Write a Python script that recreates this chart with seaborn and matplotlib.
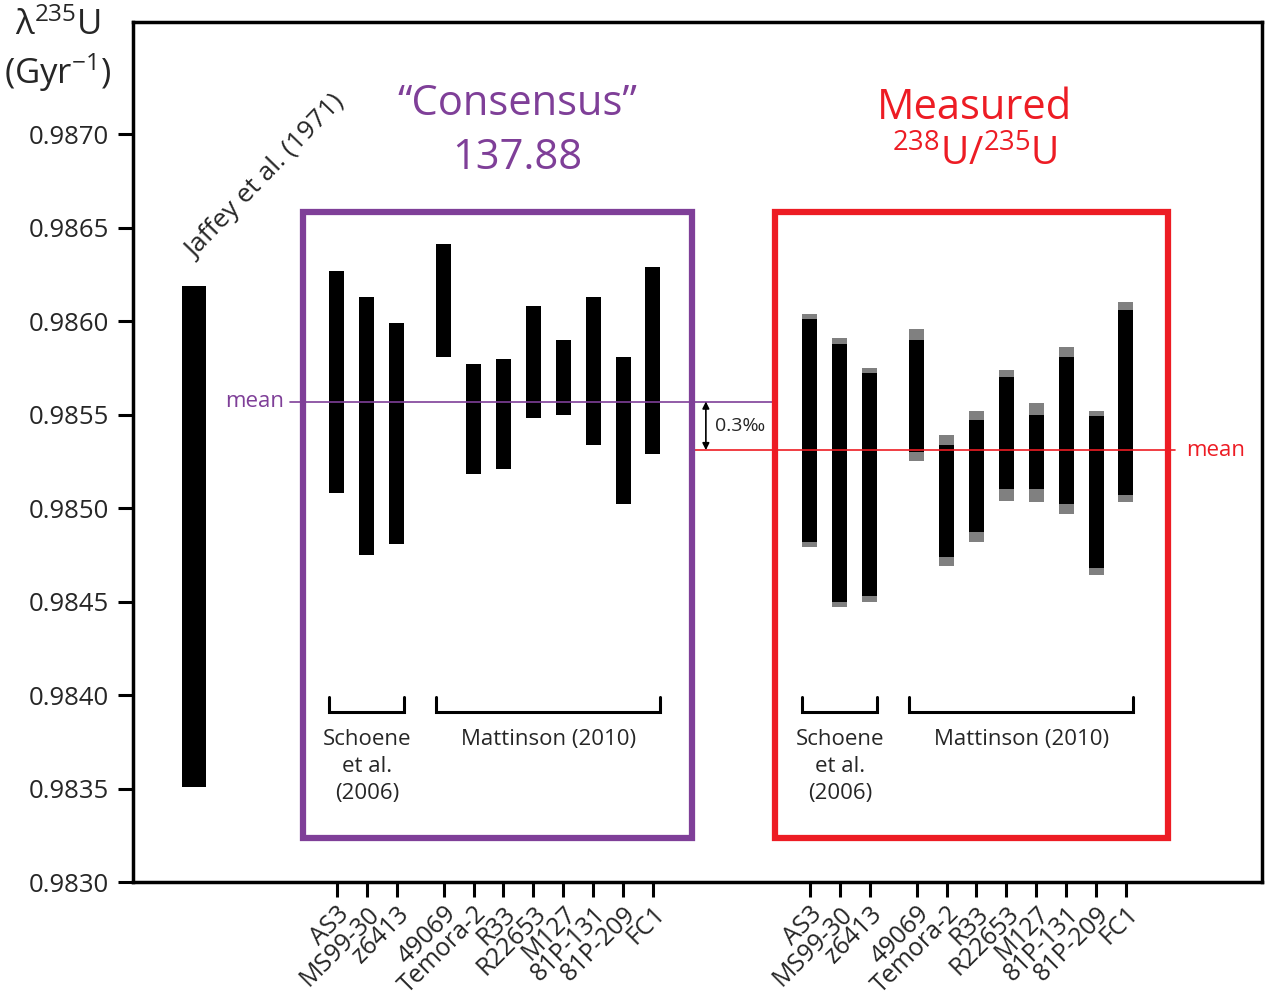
import numpy as np
import pandas as pd
import matplotlib
matplotlib.use("Agg")
import matplotlib.pyplot as plt
from matplotlib.patches import Rectangle
import seaborn as sns

# Zircon standards, in plotting order
samples = ["AS3", "MS99-30", "z6413", "49069", "Temora-2", "R33",
           "R22653", "M127", "81P-131", "81P-209", "FC1"]

# lambda-235U ranges (1/Gyr) computed with the consensus 238U/235U = 137.88
cons_low = [0.98508, 0.98475, 0.98481, 0.98581, 0.98518, 0.98521,
            0.98548, 0.98550, 0.98534, 0.98502, 0.98529]
cons_high = [0.98627, 0.98613, 0.98599, 0.98641, 0.98577, 0.98580,
             0.98608, 0.98590, 0.98613, 0.98581, 0.98629]

# lambda-235U ranges with measured 238U/235U (black: analytical, grey: incl. ratio error)
meas_low = [0.98482, 0.98450, 0.98453, 0.98530, 0.98474, 0.98487,
            0.98510, 0.98510, 0.98502, 0.98468, 0.98507]
meas_high = [0.98601, 0.98588, 0.98572, 0.98590, 0.98534, 0.98547,
             0.98570, 0.98550, 0.98581, 0.98549, 0.98606]
meas_low_full = [0.98479, 0.98447, 0.98450, 0.98525, 0.98469, 0.98482,
                 0.98504, 0.98503, 0.98497, 0.98464, 0.98503]
meas_high_full = [0.98604, 0.98591, 0.98575, 0.98596, 0.98539, 0.98552,
                  0.98574, 0.98556, 0.98586, 0.98552, 0.98610]

# Jaffey et al. (1971) decay constant range
jaffey_low = [0.98351]
jaffey_high = [0.98619]

cons_mean = 0.98557
meas_mean = 0.98531

y_ticks = [0.9830, 0.9835, 0.9840, 0.9845, 0.9850, 0.9855, 0.9860, 0.9865, 0.9870]

PURPLE = "#7F3F98"
RED = "#ED1C24"
GREY = "#808080"

sns.set_theme(style="ticks")
plt.rcParams["font.family"] = ["Open Sans", "DejaVu Sans"]
plt.rcParams["mathtext.fontset"] = "custom"
plt.rcParams["mathtext.rm"] = "Open Sans"
plt.rcParams["mathtext.it"] = "Open Sans:italic"
plt.rcParams["mathtext.bf"] = "Open Sans:bold"

fig = plt.figure(figsize=(12.65, 10.02), dpi=100)
ax = fig.add_axes([133 / 1265, 120 / 1002, (1262 - 133) / 1265, (882 - 22) / 1002])


def group_positions(start):
    # two sub-groups: Schoene et al. (first three) and Mattinson (rest)
    return [start + i + (0.57 if i >= 3 else 0.0) for i in range(len(samples))]


cons_x = group_positions(6.82)
meas_x = group_positions(22.64)
jaffey_x = [2.04]


def floating_bars(x, low, high, color, width):
    df = pd.DataFrame({"x": x, "h": np.subtract(high, low)})
    sns.barplot(data=df, x="x", y="h", bottom=low, native_scale=True,
                color=color, saturation=1, width=width, errorbar=None,
                linewidth=0, ax=ax)


floating_bars(jaffey_x, jaffey_low, jaffey_high, "black", 0.77)
floating_bars(cons_x, cons_low, cons_high, "black", 0.5)
floating_bars(meas_x, meas_low_full, meas_high_full, GREY, 0.5)
floating_bars(meas_x, meas_low, meas_high, "black", 0.5)

ax.set_xlim(0, 37.76)
ax.set_ylim(0.9830, 0.98760)
ax.set_xlabel("")
ax.set_ylabel("")

# group frames
ax.add_patch(Rectangle((5.69, 0.983235), 18.70 - 5.69, 0.986583 - 0.983235,
                       fill=False, edgecolor=PURPLE, linewidth=4.5, zorder=3))
ax.add_patch(Rectangle((21.47, 0.983235), 34.62 - 21.47, 0.986583 - 0.983235,
                       fill=False, edgecolor=RED, linewidth=4.5, zorder=3))

# mean lines
ax.plot([5.25, 21.47], [cons_mean, cons_mean], color=PURPLE, lw=1.2, zorder=1)
ax.plot([18.70, 34.85], [meas_mean, meas_mean], color=RED, lw=1.2, zorder=1)
ax.text(4.08, cons_mean, "mean", color=PURPLE, fontsize=16, ha="center", va="center")
ax.text(36.2, meas_mean, "mean", color=RED, fontsize=16, ha="center", va="center")

# offset between the two means
ax.annotate("", xy=(19.16, meas_mean), xytext=(19.16, cons_mean),
            arrowprops=dict(arrowstyle="<|-|>", color="black", lw=1.2,
                            mutation_scale=10, shrinkA=0, shrinkB=0))
ax.text(19.45, (cons_mean + meas_mean) / 2, "0.3‰", fontsize=14,
        ha="left", va="center")

# reference brackets
bracket_y = 0.983909
bracket_tip = 0.983990
for xs in (cons_x, meas_x):
    for a, b, label in ((xs[0], xs[2], "Schoene\net al.\n(2006)"),
                        (xs[3], xs[-1], "Mattinson (2010)")):
        x0, x1 = a - 0.25, b + 0.25
        ax.plot([x0, x0, x1, x1], [bracket_tip, bracket_y, bracket_y, bracket_tip],
                color="black", lw=2.2, solid_joinstyle="miter", zorder=2)
        ax.text((x0 + x1) / 2, 0.98382, label, fontsize=16, ha="center",
                va="top", linespacing=1.38)

# panel titles
ax.text(12.84, 0.98716, "“Consensus”", color=PURPLE, fontsize=30,
        ha="center", va="center")
ax.text(12.84, 0.986872, "137.88", color=PURPLE, fontsize=30,
        ha="center", va="center")
ax.text(28.16, 0.98714, "Measured", color=RED, fontsize=30,
        ha="center", va="center")
ax.text(28.16, 0.986888, r"$^{238}$U/$^{235}$U", color=RED, fontsize=28,
        ha="center", va="center")

ax.text(2.08, 0.986330, "Jaffey et al. (1971)", fontsize=19, rotation=46,
        rotation_mode="anchor", ha="left", va="baseline")

# axes styling
ax.set_yticks(y_ticks)
ax.set_yticklabels([f"{v:.4f}" for v in y_ticks], fontsize=18.5)
ax.set_xticks(cons_x + meas_x)
ax.set_xticklabels(samples + samples, fontsize=18, rotation=45,
                   ha="right", va="top", rotation_mode="anchor")
ax.tick_params(axis="x", length=11, width=2.2, pad=3, color="black")
ax.tick_params(axis="y", length=11, width=2.2, pad=6, color="black")
for side in ("left", "right", "top", "bottom"):
    ax.spines[side].set_visible(True)
    ax.spines[side].set_linewidth(2.5)
    ax.spines[side].set_color("black")
ax.grid(False)

fig.text(58 / 1265, 1 - 26 / 1002, r"λ$^{235}$U", fontsize=25, ha="center", va="center")
fig.text(58 / 1265, 1 - 73 / 1002, r"(Gyr$^{-1}$)", fontsize=25, ha="center", va="center")

fig.savefig("out.png", dpi=100, facecolor="white")
